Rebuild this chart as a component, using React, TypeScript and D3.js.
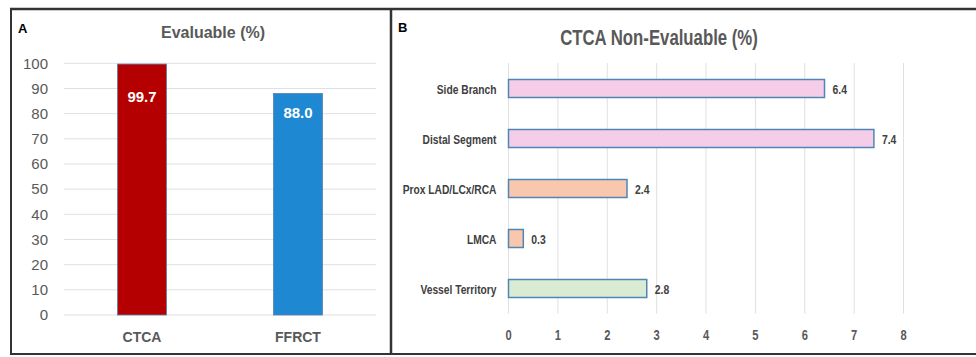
import React from "react";
import * as d3 from "d3";

const evalCategories = ["CTCA", "FFRCT"];
const evalValues = [99.7, 88.0];
const evalTicks = [0, 10, 20, 30, 40, 50, 60, 70, 80, 90, 100];

const nonEvalCategories = ["Side Branch", "Distal Segment", "Prox LAD/LCx/RCA", "LMCA", "Vessel Territory"];
const nonEvalValues = [6.4, 7.4, 2.4, 0.3, 2.8];
const nonEvalTicks = [0, 1, 2, 3, 4, 5, 6, 7, 8];

const evalColors = ["#B40000", "#1E88D2"];
const nonEvalColors = ["#F6CDE9", "#F6CDE9", "#F9C7AE", "#F9C7AE", "#D9EBD3"];

const W = 976;
const H = 357;
const SANS = "'Liberation Sans', Arial, sans-serif";
const GRAY = "#595959";

function Narrow(props: { x: number; y: number; anchor?: string; size: number; fill: string; sx?: number; children: any }) {
  const sx = props.sx ?? 0.77;
  return (
    <g transform={`translate(${props.x},${props.y}) scale(${sx},1)`}>
      <text x={0} y={0} textAnchor={props.anchor ?? "start"} fontFamily={SANS} fontWeight="bold" fontSize={props.size} fill={props.fill}>
        {props.children}
      </text>
    </g>
  );
}

export default function App() {
  // Panel A
  const xA = d3.scaleBand<string>().domain(evalCategories).range([64, 376]).paddingInner(0.686).paddingOuter(0.343);
  const yA = d3.scaleLinear().domain([0, 100]).range([315, 63.3]);
  const labelDy = [33, 19];

  // Panel B
  const xB = d3.scaleLinear().domain([0, 8]).range([508.5, 903.5]);
  const yB = d3.scaleBand<string>().domain(nonEvalCategories).range([63.5, 313.5]).paddingInner(0.64).paddingOuter(0.32);

  return (
    <svg width={W} height={H} style={{ position: "absolute", left: 0, top: 0, display: "block" }}>
      <rect x={0} y={0} width={W} height={H} fill="#fff" />
      {/* Panel A */}
      <text x={18} y={33} fontFamily={SANS} fontWeight="bold" fontSize={13} fill="#000">A</text>
      <text x={213} y={37.5} textAnchor="middle" fontFamily={SANS} fontWeight="bold" fontSize={16} fill={GRAY}>Evaluable (%)</text>
      {evalTicks.map((t) => (
        <g key={t}>
          <line x1={64} x2={376} y1={yA(t)} y2={yA(t)} stroke="#E0E0E0" strokeWidth={1} />
          <text x={48} y={yA(t) + 5.3} textAnchor="end" fontFamily={SANS} fontSize={15} fill={GRAY}>{t}</text>
        </g>
      ))}
      {evalCategories.map((c, i) => (
        <g key={c}>
          <rect x={xA(c)} y={yA(evalValues[i])} width={xA.bandwidth()} height={yA(0) - yA(evalValues[i])}
            fill={evalColors[i]} stroke="#5B7FA6" strokeWidth={0.8} />
          <text x={xA(c)! + xA.bandwidth() / 2} y={yA(evalValues[i]) + labelDy[i] + 5} textAnchor="middle"
            fontFamily={SANS} fontWeight="bold" fontSize={15} fill="#fff">{evalValues[i].toFixed(1)}</text>
          <text x={xA(c)! + xA.bandwidth() / 2} y={342} textAnchor="middle" fontFamily={SANS} fontWeight="bold"
            fontSize={14} fill={GRAY}>{c}</text>
        </g>
      ))}

      {/* Panel B */}
      <text x={398} y={32} fontFamily={SANS} fontWeight="bold" fontSize={13} fill="#000">B</text>
      <Narrow x={659} y={44.5} anchor="middle" size={21.5} sx={0.78} fill={GRAY}>CTCA Non-Evaluable (%)</Narrow>
      {nonEvalTicks.map((t) => (
        <g key={t}>
          <line x1={xB(t)} x2={xB(t)} y1={63} y2={313.5} stroke="#E0E0E0" strokeWidth={1} />
          <Narrow x={xB(t)} y={340} anchor="middle" size={14.5} fill={GRAY}>{t}</Narrow>
        </g>
      ))}
      {nonEvalCategories.map((c, i) => {
        const y0 = yB(c)!;
        const bh = yB.bandwidth();
        return (
          <g key={c}>
            <rect x={xB(0)} y={y0} width={xB(nonEvalValues[i]) - xB(0)} height={bh}
              fill={nonEvalColors[i]} stroke="#4F86B5" strokeWidth={1.5} />
            <Narrow x={496.5} y={y0 + bh / 2 + 5} anchor="end" size={13.3} sx={0.77} fill="#404040">{c}</Narrow>
            <Narrow x={xB(nonEvalValues[i]) + 8} y={y0 + bh / 2 + 5} size={13.5} fill="#404040">{nonEvalValues[i].toFixed(1)}</Narrow>
          </g>
        );
      })}

      {/* Frames */}
      <line x1={10} x2={W} y1={9} y2={9} stroke="#333" strokeWidth={2.5} />
      <line x1={11} x2={11} y1={8} y2={355} stroke="#333" strokeWidth={2} />
      <line x1={391} x2={391} y1={8} y2={355} stroke="#333" strokeWidth={2.5} />
      <line x1={10} x2={W} y1={354} y2={354} stroke="#333" strokeWidth={2} />
    </svg>
  );
}
